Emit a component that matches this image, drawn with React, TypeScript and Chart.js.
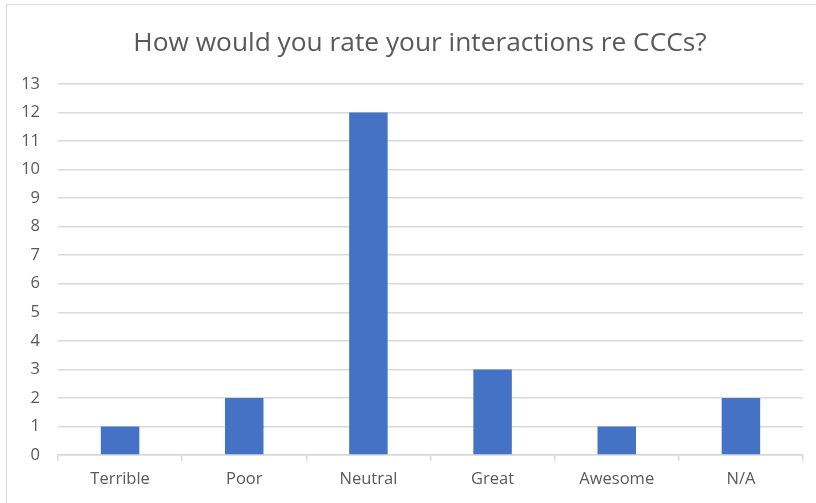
import React, { useEffect, useRef } from "react";
import { Chart, registerables } from "chart.js";

Chart.register(...registerables);

const TITLE = "How would you rate your interactions re CCCs?";
const categories = ["Terrible", "Poor", "Neutral", "Great", "Awesome", "N/A"];
const responses = [1, 2, 12, 3, 1, 2];
const yMin = 0;
const yMax = 13;
const yStep = 1;

const TEXT = "#595959";
const GRID = "#d9d9d9";
const BAR = "#4472C4";
const FONT = "'Open Sans', 'Noto Sans', sans-serif";

// Draws the chart heading centred between the value labels and the right edge.
const headingPlugin = {
  id: "heading",
  afterDraw(chart: any) {
    const ctx = chart.ctx as CanvasRenderingContext2D;
    ctx.save();
    ctx.fillStyle = TEXT;
    ctx.font = `normal 26.3px ${FONT}`;
    ctx.textAlign = "center";
    ctx.textBaseline = "middle";
    ctx.fillText(TITLE, 420, 44);
    ctx.restore();
  },
};

export default function App() {
  const canvasRef = useRef<HTMLCanvasElement | null>(null);

  useEffect(() => {
    document.body.style.margin = "0";
    const canvas = canvasRef.current;
    if (!canvas) return;
    const chart = new Chart(canvas, {
      type: "bar",
      data: {
        labels: categories,
        datasets: [
          {
            label: "Responses",
            data: responses,
            backgroundColor: BAR,
            borderWidth: 0,
            barPercentage: 0.31,
            categoryPercentage: 1,
          },
        ],
      },
      options: {
        responsive: false,
        animation: false,
        devicePixelRatio: 1,
        layout: { padding: { left: 0, right: 13, top: 84, bottom: 0 } },
        plugins: {
          legend: { display: false },
          tooltip: { enabled: false },
          title: { display: false },
        },
        scales: {
          x: {
            offset: true,
            grid: {
              offset: true,
              drawOnChartArea: false,
              drawTicks: true,
              tickLength: 6,
              color: GRID,
              lineWidth: 1.5,
            },
            border: { display: true, color: GRID, width: 1.5 },
            ticks: {
              color: TEXT,
              font: { family: FONT, size: 16.5 },
              padding: 8,
              maxRotation: 0,
            },
            afterFit: (scale: any) => {
              scale.height = 48;
            },
          },
          y: {
            min: yMin,
            max: yMax,
            grid: { color: GRID, lineWidth: 1.5, drawTicks: false },
            border: { display: false },
            ticks: {
              stepSize: yStep,
              color: TEXT,
              font: { family: FONT, size: 16.5 },
              padding: 18,
            },
            afterFit: (scale: any) => {
              scale.width = 58;
            },
          },
        },
      },
      plugins: [headingPlugin],
    });
    return () => chart.destroy();
  }, []);

  return (
    <div style={{ position: "relative", width: 816, height: 503, background: "#fff" }}>
      <canvas ref={canvasRef} width={816} height={503} style={{ display: "block" }} />
      <div
        style={{
          position: "absolute",
          left: 6,
          top: 4,
          right: 0,
          bottom: 0,
          borderTop: "1px solid #d9d9d9",
          borderLeft: "1px solid #d9d9d9",
          pointerEvents: "none",
        }}
      />
    </div>
  );
}
